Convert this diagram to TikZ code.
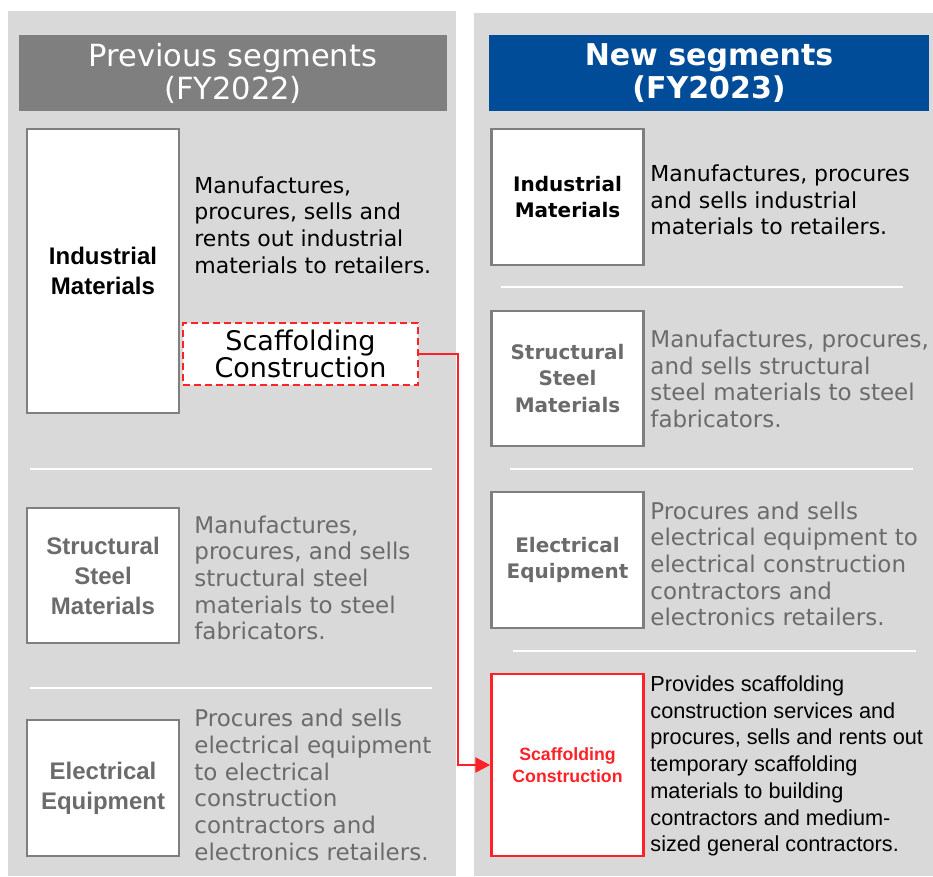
\documentclass[tikz,border=0pt]{standalone}
\usepackage{fontspec}
\setmainfont{DejaVu Sans}
\newfontfamily\tahoma{Liberation Sans}
\usetikzlibrary{arrows.meta}

\definecolor{panelgray}{HTML}{D9D9D9}
\definecolor{headgray}{HTML}{7F7F7F}
\definecolor{headblue}{HTML}{004C99}
\definecolor{boxline}{HTML}{7F7F7F}
\definecolor{dimtext}{HTML}{6B6B6B}
\definecolor{segred}{HTML}{FF2128}

\begin{document}
\begin{tikzpicture}[x=1pt,y=-1pt,thick,
    panel/.style={fill=panelgray,draw=none},
    header/.style={text=white,align=center,inner sep=0pt,minimum width=428,minimum height=76,
      font=\fontsize{30.5}{33}\selectfont},
    segbox/.style={rectangle,draw=boxline,line width=2.5pt,fill=white,minimum width=152,inner sep=0pt,align=center},
    oldlabel/.style={font=\tahoma\bfseries\fontsize{24}{30}\selectfont},
    newlabel/.style={font=\bfseries\fontsize{20}{26.5}\selectfont},
    desc/.style={anchor=west,align=left,inner sep=0pt,font=\fontsize{22}{26.7}\selectfont},
    dimdesc/.style={desc,text=dimtext,font=\fontsize{23}{26.7}\selectfont},
    sep/.style={white,line width=1.5pt},
    link/.style={segred,line width=2.5pt,-{Triangle[length=15pt,width=15pt]}}]

% background and panels
\useasboundingbox (0,0) rectangle (933,876);
\fill[white] (0,0) rectangle (933,876);
\fill[panel] (8,11) rectangle (456,876);
\fill[panel] (474,13) rectangle (933,876);

% headers
\node[header,fill=headgray] (hOld) at (233,73) {Previous segments\\(FY2022)};
\node[header,fill=headblue,minimum width=440,font=\bfseries\fontsize{30}{33}\selectfont] (hNew) at (709,73) {New segments\\(FY2023)};

% previous segments
\node[segbox,minimum height=284,oldlabel]       (oInd)  at (103,271)   {Industrial\\Materials};
\node[desc]                                     (oIndD) at (194,225)   {Manufactures,\\procures, sells and\\rents out industrial\\materials to retailers.};
\node[segbox,draw=segred,dash pattern=on 7pt off 4pt,minimum width=235,minimum height=62,line width=2pt,
      font=\fontsize{27}{26.7}\selectfont]       (oSc)   at (300.5,354) {Scaffolding\\Construction};
\node[segbox,minimum height=135,oldlabel,text=dimtext] (oStr) at (103,575.5) {Structural\\Steel\\Materials};
\node[dimdesc]                                  (oStrD) at (194,578)   {Manufactures,\\procures, and sells\\structural steel\\materials to steel\\fabricators.};
\node[segbox,minimum height=136,oldlabel,text=dimtext] (oEl) at (103,788) {Electrical\\Equipment};
\node[dimdesc]                                  (oElD)  at (194,785)   {Procures and sells\\electrical equipment\\to electrical\\construction\\contractors and\\electronics retailers.};

\draw[sep] (30,469) -- (432,469);
\draw[sep] (30,688) -- (432,688);

% new segments
\node[segbox,minimum height=136,newlabel]       (nInd)  at (567.5,197) {Industrial\\Materials};
\node[desc]                                     (nIndD) at (650,200)   {Manufactures, procures\\and sells industrial\\materials to retailers.};
\node[segbox,minimum height=135,newlabel,text=dimtext] (nStr) at (567.5,378.5) {Structural\\Steel\\Materials};
\node[dimdesc]                                  (nStrD) at (650,379)   {Manufactures, procures,\\and sells structural\\steel materials to steel\\fabricators.};
\node[segbox,minimum height=136,newlabel,text=dimtext] (nEl) at (567.5,560) {Electrical\\Equipment};
\node[dimdesc]                                  (nElD)  at (650,564)   {Procures and sells\\electrical equipment to\\electrical construction\\contractors and\\electronics retailers.};
\node[segbox,minimum height=182,draw=segred,text=segred,
      font=\tahoma\bfseries\fontsize{17.7}{22}\selectfont] (nSc) at (567.5,765) {Scaffolding\\Construction};
\node[desc,font=\tahoma\fontsize{21.7}{26.7}\selectfont] (nScD) at (650,766) {Provides scaffolding\\construction services and\\procures, sells and rents out\\temporary scaffolding\\materials to building\\contractors and medium-\\sized general contractors.};

\draw[sep] (501,287) -- (903,287);
\draw[sep] (510,469) -- (913,469);
\draw[sep] (513,651) -- (916,651);

% moved segment
\coordinate (bend) at (458,354);
\draw[link] (oSc.east) -- (bend) |- (nSc.west);

\end{tikzpicture}
\end{document}
